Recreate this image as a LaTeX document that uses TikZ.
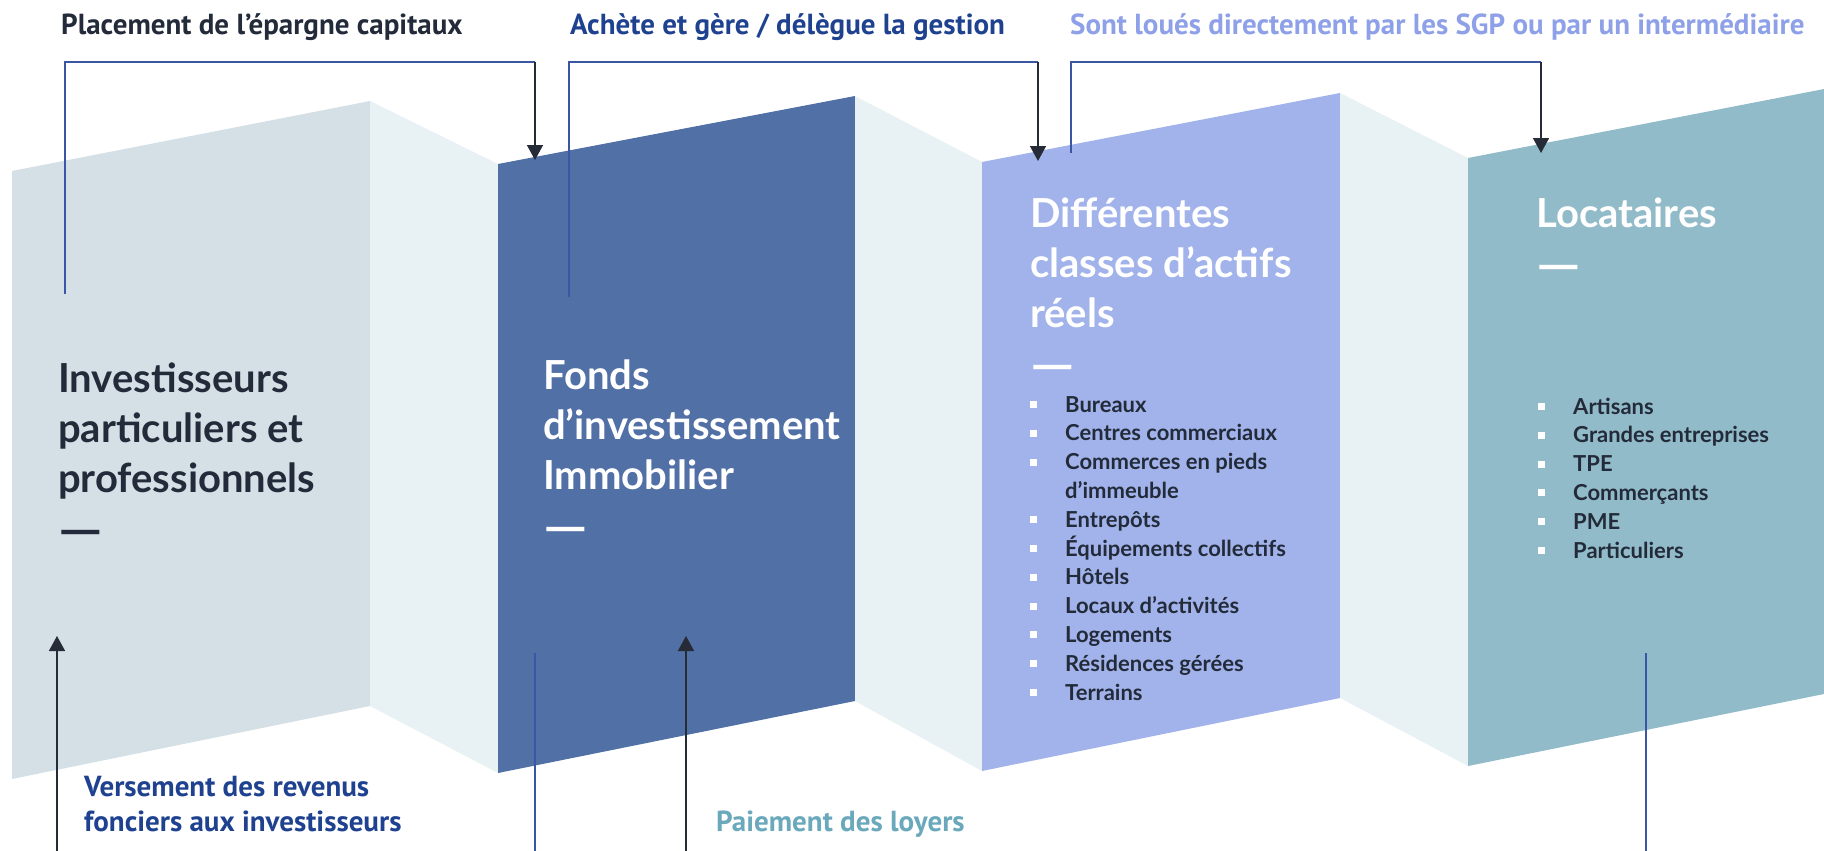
\documentclass[tikz,border=0pt]{standalone}
\usepackage{fontspec}
\usepackage{graphicx}
\setmainfont{Lato}
\newfontfamily\hfont{PT Sans}
\usetikzlibrary{arrows.meta}
\definecolor{pone}{HTML}{D5E0E6}
\definecolor{pfold}{HTML}{E8F1F3}
\definecolor{ptwo}{HTML}{5170A6}
\definecolor{pthree}{HTML}{A1B3EA}
\definecolor{pfour}{HTML}{92BBC9}
\definecolor{navy}{HTML}{232B3A}
\definecolor{dblue}{HTML}{1F4290}
\definecolor{lblue}{HTML}{8EA1E8}
\definecolor{teal}{HTML}{6AA8BB}
\definecolor{linkblue}{HTML}{3B56A5}
\definecolor{linkdark}{HTML}{262B38}
\newcommand{\bul}{\makebox[35pt][l]{\textcolor{white}{\rule[4pt]{7pt}{7pt}}}}
\newcommand{\tdash}{\raisebox{-5pt}{\scalebox{1.4}[1.25]{—}}}
\begin{document}
\begin{tikzpicture}[x=1pt,y=-1pt,
  heading/.style={anchor=base west,inner sep=0pt,font=\hfont\bfseries\fontsize{29}{34}\selectfont},
  ptitle/.style={anchor=base west,inner sep=0pt,font=\bfseries\fontsize{40}{50}\selectfont},
  plist/.style={anchor=base west,inner sep=0pt,text=navy,font=\bfseries\fontsize{22}{28.8}\selectfont},
  bline/.style={draw=linkblue,line width=1.5pt},
  dline/.style={draw=linkdark,line width=1.5pt,-{Triangle[width=16pt,length=15pt]}}]
\useasboundingbox (0,0) rectangle (1824,851);
% panels
\fill[pone]   (12,171) -- (370,101) -- (370,706) -- (12,779) -- cycle;
\fill[pfold]  (370,101) -- (498,164) -- (498,773) -- (370,706) -- cycle;
\fill[ptwo]   (498,164) -- (855,96) -- (855,701) -- (498,773) -- cycle;
\fill[pfold]  (855,96) -- (982,162) -- (982,771) -- (855,701) -- cycle;
\fill[pthree] (982,162) -- (1340,93) -- (1340,698) -- (982,771) -- cycle;
\fill[pfold]  (1340,93) -- (1468,158) -- (1468,766) -- (1340,698) -- cycle;
\fill[pfour]  (1468,158) -- (1824,89) -- (1824,694) -- (1468,766) -- cycle;
% headings
\node[heading,text=navy] (h1) at (61,35) {Placement de l’épargne capitaux};
\node[heading,text=dblue] (h2) at (570,35) {Achète et gère / délègue la gestion};
\node[heading,text=lblue] (h3) at (1070,35) {Sont loués directement par les SGP ou par un intermédiaire};
% panel titles
\node[ptitle,text=navy] (t1) at (58,392) {\vtop{\baselineskip=50pt\hbox{Investisseurs}\hbox{particuliers et}\hbox{professionnels}\hbox{\tdash}}};
\node[ptitle,text=white] (t2) at (543,389) {\vtop{\baselineskip=50pt\hbox{Fonds}\hbox{d’investissement}\hbox{Immobilier}\hbox{\tdash}}};
\node[ptitle,text=white] (t3) at (1030,227) {\vtop{\baselineskip=50pt\hbox{Différentes}\hbox{classes d’actifs}\hbox{réels}\hbox{\tdash}}};
\node[ptitle,text=white] (t4) at (1536,227) {\vtop{\baselineskip=50pt\hbox{Locataires}\hbox{\tdash}}};
% lists
\node[plist] (l3) at (1030,412) {\vtop{\baselineskip=28.8pt
  \hbox{\bul Bureaux}\hbox{\bul Centres commerciaux}\hbox{\bul Commerces en pieds}\hbox{\kern35pt d’immeuble}
  \hbox{\bul Entrepôts}\hbox{\bul Équipements collectifs}\hbox{\bul Hôtels}\hbox{\bul Locaux d’activités}
  \hbox{\bul Logements}\hbox{\bul Résidences gérées}\hbox{\bul Terrains}}};
\node[plist] (l4) at (1538,414) {\vtop{\baselineskip=28.8pt
  \hbox{\bul Artisans}\hbox{\bul Grandes entreprises}\hbox{\bul TPE}\hbox{\bul Commerçants}\hbox{\bul PME}\hbox{\bul Particuliers}}};
% bottom labels
\node[heading,text=dblue] (v1) at (84,796) {\vtop{\baselineskip=35pt\hbox{Versement des revenus}\hbox{fonciers aux investisseurs}}};
\node[heading,text=teal] (v2) at (716,831) {Paiement des loyers};
% connector points
\coordinate (a1s) at (65,294);  \coordinate (a1c) at (65,62);  \coordinate (a1k) at (535,62);  \coordinate (a1e) at (535,160);
\coordinate (a2s) at (569,297); \coordinate (a2c) at (569,62); \coordinate (a2k) at (1038,62); \coordinate (a2e) at (1038,161);
\coordinate (a3s) at (1071,153); \coordinate (a3c) at (1071,62); \coordinate (a3k) at (1541,62); \coordinate (a3e) at (1541,153);
\coordinate (b1s) at (57,851);   \coordinate (b1e) at (57,636);
\coordinate (b2s) at (535,653);  \coordinate (b2e) at (535,851);
\coordinate (b3s) at (686,851);  \coordinate (b3e) at (686,636);
\coordinate (b4s) at (1646,653); \coordinate (b4e) at (1646,851);
% connectors
\draw[bline] (a1s) -- (a1c) -- (a1k);
\draw[dline] (a1k) -- (a1e);
\draw[bline] (a2s) -- (a2c) -- (a2k);
\draw[dline] (a2k) -- (a2e);
\draw[bline] (a3s) -- (a3c) -- (a3k);
\draw[dline] (a3k) -- (a3e);
\draw[dline] (b1s) -- (b1e);
\draw[bline] (b2s) -- (b2e);
\draw[dline] (b3s) -- (b3e);
\draw[bline] (b4s) -- (b4e);
\end{tikzpicture}
\end{document}
